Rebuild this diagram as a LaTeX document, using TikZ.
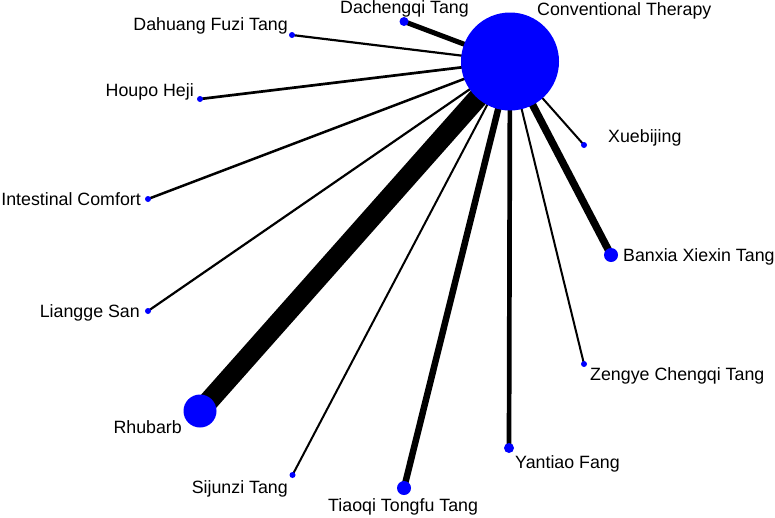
\documentclass[tikz,border=0pt]{standalone}
\usepackage{fontspec}
\setmainfont{Liberation Sans}
\usetikzlibrary{backgrounds}
\definecolor{nodeblue}{RGB}{0,0,255}
\begin{document}
\begin{tikzpicture}[x=1pt,y=-1pt,
  dot/.style={circle,fill=nodeblue,draw=none,inner sep=0pt,minimum size=#1},
  lbl/.style={inner sep=0pt,font=\fontsize{17.8}{20}\selectfont},
  edge/.style={draw=black,line width=#1}]
\useasboundingbox (0,0) rectangle (775,517);
% nodes
\node[dot=98] (ct) at (510,61.5) {};
\node[dot=9] (dc) at (404,21.5) {};
\node[dot=6] (dh) at (292,35) {};
\node[dot=6] (hp) at (200,99) {};
\node[dot=6] (ic) at (148,199) {};
\node[dot=6] (lg) at (148,311) {};
\node[dot=33] (rh) at (200,411) {};
\node[dot=6] (sj) at (292.5,475) {};
\node[dot=14] (tq) at (404,488) {};
\node[dot=10] (yt) at (509,448) {};
\node[dot=6] (zy) at (584,364) {};
\node[dot=14] (bx) at (611,255) {};
\node[dot=6] (xb) at (584,145) {};
% edges
\begin{pgfonlayer}{background}
\draw[edge=5] (ct.center) -- (dc.center);
\draw[edge=2.2] (ct.center) -- (dh.center);
\draw[edge=2.7] (ct.center) -- (hp.center);
\draw[edge=2.5] (ct.center) -- (ic.center);
\draw[edge=2.2] (ct.center) -- (lg.center);
\draw[edge=20] (ct.center) -- (rh.center);
\draw[edge=2] (ct.center) -- (sj.center);
\draw[edge=6.5] (ct.center) -- (tq.center);
\draw[edge=4.7] (ct.center) -- (yt.center);
\draw[edge=2] (ct.center) -- (zy.center);
\draw[edge=7.5] (ct.center) -- (bx.center);
\draw[edge=2] (ct.center) -- (xb.center);
\end{pgfonlayer}
% labels
\node[lbl,anchor=base east] (ldc) at (469,13.5) {Dachengqi Tang};
\node[lbl,anchor=base west] (lct) at (537,15.5) {Conventional Therapy};
\node[lbl,anchor=base east] (ldh) at (288,30) {Dahuang Fuzi Tang};
\node[lbl,anchor=base east] (lhp) at (194,96) {Houpo Heji};
\node[lbl,anchor=base east] (lic) at (141,205) {Intestinal Comfort};
\node[lbl,anchor=base east] (llg) at (140,317) {Liangge San};
\node[lbl,anchor=base east] (lrh) at (182,433) {Rhubarb};
\node[lbl,anchor=base east] (lsj) at (288,493) {Sijunzi Tang};
\node[lbl,anchor=base west] (ltq) at (328,511) {Tiaoqi Tongfu Tang};
\node[lbl,anchor=base west] (lxb) at (608,142.5) {Xuebijing};
\node[lbl,anchor=base west] (lbx) at (623,261) {Banxia Xiexin Tang};
\node[lbl,anchor=base west] (lzy) at (590,380) {Zengye Chengqi Tang};
\node[lbl,anchor=base west] (lyt) at (515,468) {Yantiao Fang};
\end{tikzpicture}
\end{document}
